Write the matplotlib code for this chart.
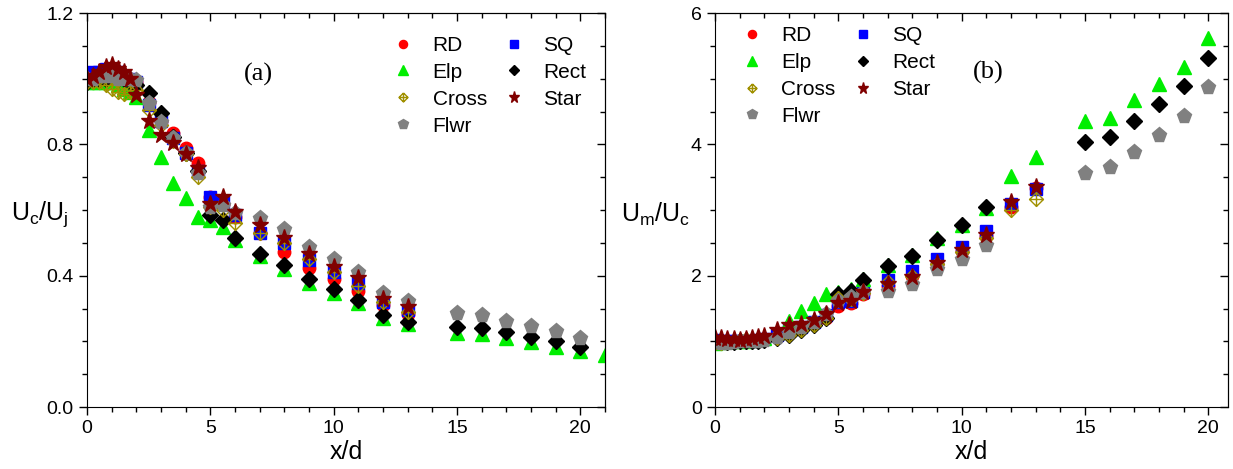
import numpy as np
import matplotlib
matplotlib.use('Agg')
import matplotlib.pyplot as plt
from matplotlib.path import Path
from matplotlib.ticker import MultipleLocator, FormatStrFormatter

plt.rcParams['font.family'] = 'Liberation Sans'
plt.rcParams['mathtext.fontset'] = 'custom'
plt.rcParams['mathtext.rm'] = 'Liberation Sans'
plt.rcParams['mathtext.it'] = 'Liberation Sans'

nan = np.nan

# x/d stations
x_near = [0, 0.25, 0.5, 0.75, 1.0, 1.25, 1.5, 1.75, 2.0, 2.5, 3, 3.5, 4, 4.5,
          5, 5.5, 6, 7, 8, 9, 10, 11, 12, 13]
x_far = [15, 16, 17, 18, 19, 20]
x_far_elp = [15, 16, 17, 18, 19, 20, 21]

# (a) centreline velocity decay Uc/Uj
uc_rd = [1.00, 1.00, 1.01, 1.02, 1.02, 1.02, 1.01, 1.00, 0.99, 0.93, 0.87, 0.835,
         0.79, 0.743, 0.64, 0.62, 0.58, 0.53, 0.472, 0.424, 0.39, 0.353, 0.311, 0.283]
uc_sq = [1.01, 1.02, 1.02, 1.03, 1.02, 1.02, 1.01, 1.00, 0.99, 0.92, 0.87, 0.82,
         0.775, 0.72, 0.64, 0.625, 0.585, 0.53, 0.50, 0.448, 0.41, 0.378, 0.32, 0.295]
uc_elp = [0.99, 0.99, 0.99, 0.99, 0.99, 0.98, 0.97, 0.96, 0.945, 0.845, 0.762, 0.682,
          0.636, 0.578, 0.57, 0.55, 0.51, 0.46, 0.42, 0.378, 0.347, 0.317, 0.271, 0.253,
          0.225, 0.222, 0.21, 0.198, 0.183, 0.17, 0.158]
uc_rect = [0.99, 1.00, 1.00, 1.00, 1.01, 1.00, 1.00, 0.99, 0.98, 0.957, 0.895, 0.823,
           0.775, 0.72, 0.585, 0.57, 0.516, 0.466, 0.432, 0.39, 0.359, 0.326, 0.28, 0.259,
           0.244, 0.24, 0.228, 0.214, 0.2, 0.183]
uc_cross = [0.99, 0.99, 0.99, 0.98, 0.97, 0.96, 0.955, 0.96, 0.965, 0.905, 0.86, 0.81,
            0.77, 0.70, 0.609, 0.60, 0.56, 0.53, 0.50, 0.45, 0.41, 0.37, 0.32, 0.29]
uc_flwr = [1.00, 1.00, 1.01, 1.01, 1.01, 1.00, 1.00, 1.00, 0.996, 0.926, 0.869, 0.819,
           0.773, 0.713, 0.61, 0.615, 0.59, 0.576, 0.542, 0.487, 0.451, 0.41, 0.347, 0.323,
           0.286, 0.28, 0.262, 0.247, 0.232, 0.21]
uc_star = [1.00, 1.01, 1.02, 1.035, 1.042, 1.03, 1.02, 1.00, 0.95, 0.87, 0.829, 0.804,
           0.77, 0.728, 0.62, 0.64, 0.595, 0.554, 0.515, 0.466, 0.427, 0.393, 0.329, 0.305]

# (b) Um/Uc
um_rd = [1.00, 1.00, 1.00, 1.00, 1.00, 1.00, 1.00, 1.01, 1.02, 1.08, 1.15, 1.20,
         1.28, 1.36, 1.54, 1.58, 1.72, 1.85, 2.00, 2.18, 2.38, 2.60, 3.05, 3.33]
um_sq = [1.02, 1.01, 1.00, 1.00, 1.00, 1.00, 1.01, 1.02, 1.03, 1.10, 1.17, 1.22,
         1.30, 1.40, 1.60, 1.62, 1.76, 1.94, 2.08, 2.26, 2.44, 2.68, 3.10, 3.32]
um_elp = [0.98, 0.99, 1.00, 1.00, 1.00, 1.00, 1.02, 1.03, 1.05, 1.15, 1.31, 1.47,
          1.59, 1.73, 1.75, 1.80, 1.95, 2.17, 2.32, 2.58, 2.78, 3.03, 3.52, 3.81,
          4.35, 4.40, 4.67, 4.92, 5.18, 5.62]
um_rect = [1.00, 1.00, 0.99, 0.99, 1.00, 1.00, 1.00, 1.00, 1.02, 1.05, 1.10, 1.17,
           1.25, 1.35, 1.73, 1.77, 1.93, 2.15, 2.30, 2.55, 2.77, 3.05, nan, nan,
           4.04, 4.12, 4.36, 4.61, 4.89, 5.31]
um_cross = [0.98, 0.98, 0.99, 1.00, 1.02, 1.03, 1.02, 1.02, 1.03, 1.05, 1.10, 1.17,
            1.25, 1.36, 1.66, 1.65, 1.74, 1.90, 1.99, 2.18, 2.36, 2.58, 3.00, 3.17]
um_flwr = [1.00, 0.98, 0.98, 0.99, 1.00, 1.00, 1.00, 1.00, 1.02, 1.07, 1.15, 1.22,
           1.30, 1.42, 1.62, 1.68, 1.75, 1.77, 1.88, 2.10, 2.26, 2.47, nan, nan,
           3.57, 3.65, 3.89, 4.15, 4.43, 4.87]
um_star = [1.05, 1.05, 1.03, 1.03, 1.02, 1.03, 1.05, 1.06, 1.08, 1.18, 1.25, 1.27,
           1.32, 1.42, 1.58, 1.61, 1.76, 1.88, 1.98, 2.20, 2.39, 2.62, 3.13, 3.35]

# diamond with a plus inside, open
cross_marker = Path(
    [(0, 1), (1, 0), (0, -1), (-1, 0), (0, 1), (0, 1), (0, -1), (-1, 0), (1, 0)],
    [Path.MOVETO, Path.LINETO, Path.LINETO, Path.LINETO, Path.LINETO,
     Path.MOVETO, Path.LINETO, Path.MOVETO, Path.LINETO])

styles = {
    'RD': dict(marker='o', color='#ff0000', ms=9),
    'SQ': dict(marker='s', color='#0000ff', ms=8),
    'Elp': dict(marker='^', color='#00ee00', ms=10),
    'Rect': dict(marker='D', color='black', ms=8.5),
    'Cross': dict(marker=cross_marker, color='#a09000', ms=10, mfc='none', mew=1.0),
    'Flwr': dict(marker='p', color='#808080', ms=11),
    'Star': dict(marker='*', color='#800000', ms=12.5),
}


def panel(ax, data, ylim, ymajor, yminor, ylabel, ylab_x, tag, tag_xy, leg_anchor):
    h = {}
    for name, (xs, ys) in data.items():
        st = dict(styles[name])
        c = st.pop('color')
        mfc = st.pop('mfc', c)
        h[name], = ax.plot(xs, ys, ls='none', color=c, mec=c, mfc=mfc, **st)
    order = ['RD', 'Elp', 'Cross', 'Flwr', 'SQ', 'Rect', 'Star']
    ax.legend([h[k] for k in order], order, ncol=2, frameon=False, fontsize=15,
              loc='upper right', bbox_to_anchor=leg_anchor, handletextpad=0.6,
              handlelength=1.6, columnspacing=0.5, labelspacing=0.38,
              markerscale=0.65)
    ax.set_ylim(*ylim)
    ax.yaxis.set_major_locator(MultipleLocator(ymajor))
    ax.yaxis.set_minor_locator(MultipleLocator(yminor))
    ax.xaxis.set_major_locator(MultipleLocator(5))
    ax.xaxis.set_minor_locator(MultipleLocator(1))
    ax.tick_params(which='both', labelsize=14, width=1)
    ax.tick_params(which='major', length=6)
    ax.tick_params(which='minor', length=3.5)
    ax.set_xlabel('x/d', fontsize=18, labelpad=2)
    ax.set_ylabel(ylabel, fontsize=18, rotation=0, ha='center', va='center')
    ax.yaxis.set_label_coords(ylab_x, 0.49)
    ax.text(tag_xy[0], tag_xy[1], tag, transform=ax.transAxes, fontsize=19,
            family='Liberation Serif', ha='center', va='center')
    # inward ticks on top/right without labels
    top = ax.secondary_xaxis('top')
    top.xaxis.set_major_locator(MultipleLocator(5))
    top.xaxis.set_minor_locator(MultipleLocator(1))
    top.tick_params(which='both', direction='in', labeltop=False, width=1)
    right = ax.secondary_yaxis('right')
    right.yaxis.set_major_locator(MultipleLocator(ymajor))
    right.yaxis.set_minor_locator(MultipleLocator(yminor))
    right.tick_params(which='both', direction='in', labelright=False, width=1)
    for sec in (top, right):
        sec.tick_params(which='major', length=6)
        sec.tick_params(which='minor', length=3.5)
    return h


fig = plt.figure(figsize=(12.33, 4.69), dpi=100)
ax1 = fig.add_axes([0.0706, 0.132, 0.420, 0.840])
ax2 = fig.add_axes([0.580, 0.132, 0.416, 0.840])

data_a = {
    'RD': (x_near, uc_rd),
    'SQ': (x_near, uc_sq),
    'Elp': (x_near + x_far_elp, uc_elp),
    'Rect': (x_near + x_far, uc_rect),
    'Cross': (x_near, uc_cross),
    'Flwr': (x_near + x_far, uc_flwr),
    'Star': (x_near, uc_star),
}
data_b = {
    'RD': (x_near, um_rd),
    'SQ': (x_near, um_sq),
    'Elp': (x_near + x_far, um_elp),
    'Rect': (x_near + x_far, um_rect),
    'Cross': (x_near, um_cross),
    'Flwr': (x_near + x_far, um_flwr),
    'Star': (x_near, um_star),
}

panel(ax1, data_a, (0, 1.2), 0.4, 0.1, r'$\mathregular{U_c/U_j}$', -0.091,
      '(a)', (0.33, 0.845), (1.0, 0.99))
ax1.set_xlim(0, 21)
ax1.yaxis.set_major_formatter(FormatStrFormatter('%.1f'))

panel(ax2, data_b, (0, 6), 2, 0.5, r'$\mathregular{U_m/U_c}$', -0.117,
      '(b)', (0.532, 0.85), (0.465, 1.015))
ax2.set_xlim(0, 20.8)

fig.savefig('out.png', dpi=100)
